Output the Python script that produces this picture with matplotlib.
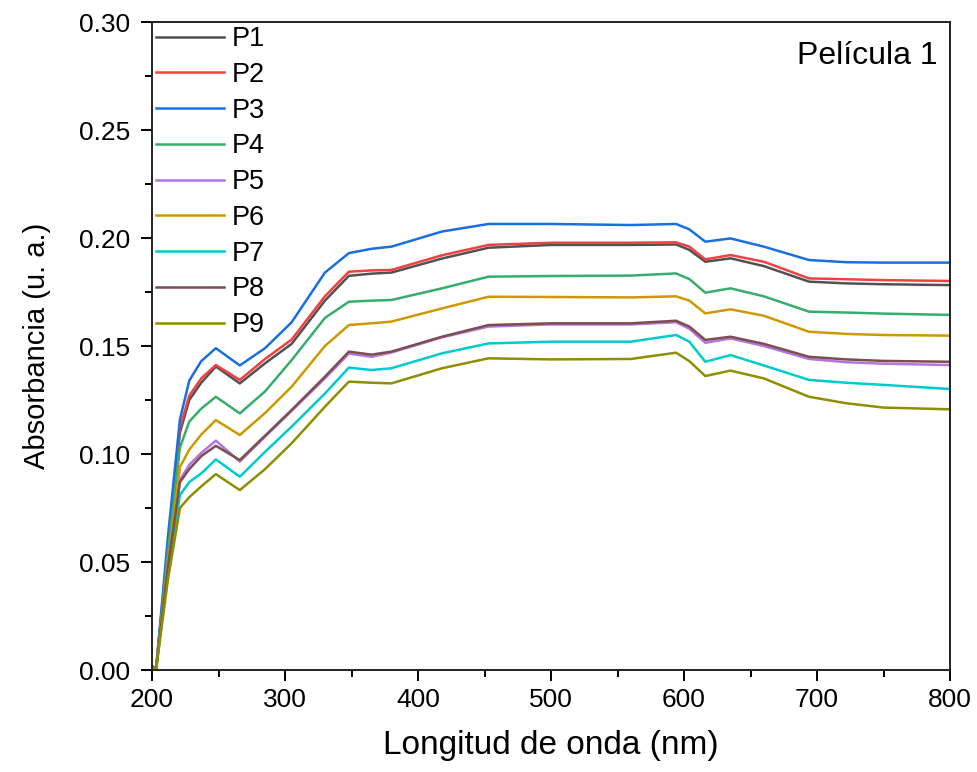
import numpy as np
import matplotlib
matplotlib.use("Agg")
import matplotlib.pyplot as plt
from matplotlib.ticker import MultipleLocator

plt.rcParams['font.family'] = ['Liberation Sans', 'DejaVu Sans']

# wavelength points (nm)
wl = [200, 203, 212, 221, 228, 237, 248, 266, 285, 305, 330, 348, 365, 380,
      418, 453, 500, 560, 594, 604, 616, 635, 660, 694, 722, 750, 800]

p1 = [0.002, 0.0, 0.057, 0.110, 0.125, 0.133, 0.1405, 0.1327, 0.142, 0.151, 0.171,
      0.1825, 0.1835, 0.184, 0.1905, 0.1955, 0.1968, 0.1968, 0.197, 0.1945, 0.189,
      0.1906, 0.187, 0.1798, 0.179, 0.1786, 0.1782]
p2 = [0.002, 0.0, 0.058, 0.112, 0.127, 0.135, 0.1412, 0.1343, 0.144, 0.153, 0.173,
      0.1844, 0.185, 0.1852, 0.192, 0.1968, 0.1978, 0.1978, 0.198, 0.196, 0.1901,
      0.1921, 0.189, 0.1813, 0.1809, 0.1805, 0.1801]
p3 = [0.002, 0.0, 0.062, 0.116, 0.134, 0.143, 0.149, 0.141, 0.149, 0.161, 0.184,
      0.193, 0.195, 0.196, 0.203, 0.2065, 0.2065, 0.206, 0.2065, 0.204, 0.1983,
      0.1998, 0.196, 0.1898, 0.1888, 0.1886, 0.1886]
p4 = [0.002, 0.0, 0.055, 0.103, 0.115, 0.121, 0.1265, 0.1188, 0.129, 0.1435, 0.163,
      0.1705, 0.171, 0.1713, 0.1767, 0.1821, 0.1824, 0.1826, 0.1836, 0.181, 0.1747,
      0.1767, 0.173, 0.1659, 0.1655, 0.165, 0.1644]
p5 = [0.002, 0.0, 0.049, 0.088, 0.095, 0.1005, 0.1062, 0.0965, 0.108, 0.120, 0.135,
      0.1465, 0.145, 0.147, 0.154, 0.159, 0.160, 0.160, 0.161, 0.158, 0.1515,
      0.1535, 0.150, 0.144, 0.1425, 0.1418, 0.1412]
p6 = [0.002, 0.0, 0.050, 0.094, 0.102, 0.109, 0.1157, 0.1088, 0.119, 0.1312, 0.150,
      0.1597, 0.1605, 0.1613, 0.1674, 0.1728, 0.1727, 0.1725, 0.173, 0.171, 0.1651,
      0.167, 0.164, 0.1566, 0.1556, 0.1551, 0.1548]
p7 = [0.002, 0.0, 0.046, 0.081, 0.087, 0.091, 0.0975, 0.0895, 0.101, 0.1127, 0.128,
      0.140, 0.1389, 0.1397, 0.1466, 0.1512, 0.152, 0.152, 0.1551, 0.152, 0.1427,
      0.1458, 0.141, 0.1343, 0.133, 0.132, 0.1301]
p8 = [0.002, 0.0, 0.048, 0.087, 0.093, 0.099, 0.1038, 0.0972, 0.1085, 0.1204, 0.1358,
      0.1474, 0.146, 0.1474, 0.1543, 0.1597, 0.1605, 0.1605, 0.1617, 0.159, 0.1528,
      0.1543, 0.151, 0.145, 0.1438, 0.1431, 0.1427]
p9 = [0.002, 0.0, 0.042, 0.075, 0.080, 0.085, 0.0907, 0.0833, 0.093, 0.105, 0.1219,
      0.1335, 0.133, 0.1327, 0.1397, 0.1443, 0.1438, 0.144, 0.1469, 0.143, 0.1361,
      0.1386, 0.135, 0.1265, 0.1235, 0.1215, 0.1207]

labels = ['P1', 'P2', 'P3', 'P4', 'P5', 'P6', 'P7', 'P8', 'P9']
colors = ['#515151', '#F14040', '#1A6FDF', '#37AD6B', '#B177DE',
          '#CC9900', '#00CBCC', '#7D4E4E', '#8E8E00']
series = [p1, p2, p3, p4, p5, p6, p7, p8, p9]

fig = plt.figure(figsize=(9.77, 7.72), dpi=100)
ax = fig.add_axes([0.1556, 0.1321, 0.8168, 0.8394])

for lab, col, ys in zip(labels, colors, series):
    ax.plot(wl, ys, color=col, lw=1.8, label=lab)

ax.set_xlim(200, 800)
ax.set_ylim(0, 0.30)
ax.xaxis.set_major_locator(MultipleLocator(100))
ax.xaxis.set_minor_locator(MultipleLocator(50))
ax.yaxis.set_major_locator(MultipleLocator(0.05))
ax.yaxis.set_minor_locator(MultipleLocator(0.025))
ax.yaxis.set_major_formatter(matplotlib.ticker.FormatStrFormatter('%.2f'))
ax.tick_params(which='major', direction='out', length=8, width=1.4, labelsize=19)
ax.tick_params(axis='y', which='major', pad=8)
ax.tick_params(axis='x', which='major', pad=5)
ax.tick_params(which='minor', direction='out', length=5, width=1.4)
for sp in ax.spines.values():
    sp.set_linewidth(1.4)
    sp.set_color('#222222')

ax.set_xlabel('Longitud de onda (nm)', fontsize=24, labelpad=13)
ax.set_ylabel('Absorbancia (u. a.)', fontsize=21, labelpad=20)

ax.text(0.985, 0.97, 'Película 1', transform=ax.transAxes, ha='right', va='top', fontsize=23)

ax.legend(loc='upper left', bbox_to_anchor=(0.0, 1.0), frameon=False, fontsize=19.5,
          handlelength=2.5, handletextpad=0.3, labelspacing=0.36, borderaxespad=0.05,
          borderpad=0.1)

fig.savefig('out.png', dpi=100)
